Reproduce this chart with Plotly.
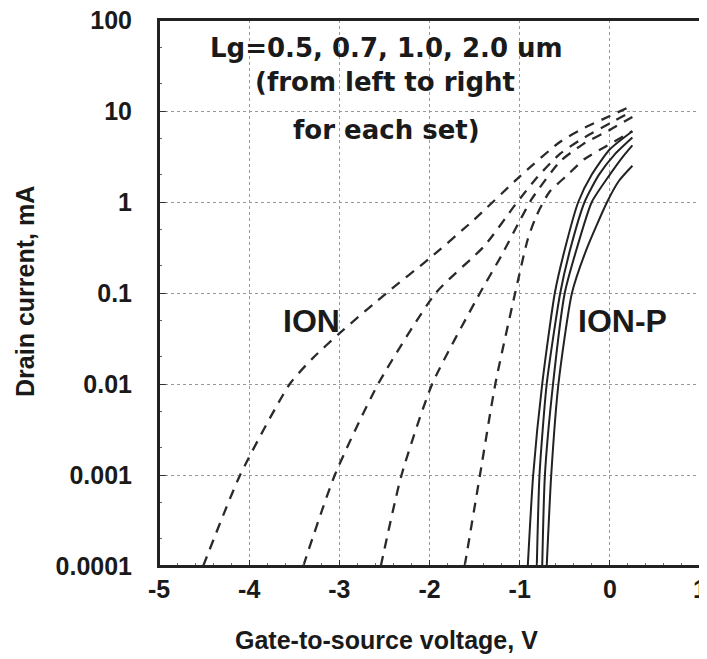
import plotly.graph_objects as go

# ION (dashed) curves, Lg = 0.5, 0.7, 1.0, 2.0 um
ion_v = [
    [-4.51, -4.10, -3.55, -3.30, -3.00, -2.45, -2.00, -1.52, -1.00, -0.55, -0.30, 0.00, 0.25],
    [-3.40, -3.05, -2.57, -1.93, -1.39, -1.05, -0.80, -0.55, -0.30, 0.00, 0.25],
    [-2.54, -2.31, -1.97, -1.44, -1.20, -1.00, -0.86, -0.55, -0.30, 0.00, 0.25],
    [-1.61, -1.44, -1.27, -1.05, -0.91, -0.81, -0.67, -0.47, -0.28, -0.06, 0.25],
]
ion_i = [
    [1e-4, 1e-3, 1e-2, 0.019, 0.036, 0.105, 0.24, 0.62, 1.9, 4.6, 6.4, 8.8, 11.5],
    [1e-4, 1e-3, 1e-2, 0.1, 0.33, 0.93, 1.9, 3.4, 5.0, 7.3, 10.0],
    [1e-4, 1e-3, 1e-2, 0.1, 0.26, 0.62, 1.1, 2.8, 4.3, 6.2, 8.6],
    [1e-4, 1e-3, 1e-2, 0.1, 0.39, 0.72, 1.29, 1.98, 2.97, 4.0, 6.0],
]

# ION-P (solid) curves
ionp_v = [
    [-0.91, -0.85, -0.75, -0.61, -0.50, -0.35, -0.20, 0.00, 0.25],
    [-0.81, -0.78, -0.70, -0.55, -0.44, -0.28, -0.12, 0.05, 0.25],
    [-0.75, -0.72, -0.63, -0.50, -0.37, -0.20, 0.00, 0.15, 0.25],
    [-0.70, -0.65, -0.57, -0.42, -0.26, -0.03, 0.10, 0.25],
]
ionp_i = [
    [1e-4, 1e-3, 1e-2, 0.1, 0.3, 1.0, 2.0, 3.8, 6.0],
    [1e-4, 1e-3, 1e-2, 0.1, 0.3, 1.0, 2.0, 3.3, 5.1],
    [1e-4, 1e-3, 1e-2, 0.1, 0.3, 1.0, 2.0, 3.2, 4.2],
    [1e-4, 1e-3, 1e-2, 0.1, 0.3, 1.0, 1.7, 2.5],
]

x_ticks = [-5, -4, -3, -2, -1, 0, 1]
x_tick_text = ["-5", "-4", "-3", "-2", "-1", "0", "1"]
y_ticks = [1e-4, 1e-3, 1e-2, 0.1, 1, 10, 100]
y_tick_text = ["0.0001", "0.001", "0.01", "0.1", "1", "10", "100"]

FONT = "Liberation Sans"
WIDE = "DejaVu Sans"
INK = "#1a1a1a"

fig = go.Figure()
for v, i in zip(ion_v, ion_i):
    fig.add_trace(go.Scatter(x=v, y=i, mode="lines",
                             line=dict(color="#2a2a2a", width=2.3, dash="10px,8px",
                                       shape="spline", smoothing=0.6),
                             showlegend=False, hoverinfo="skip"))
for v, i in zip(ionp_v, ionp_i):
    fig.add_trace(go.Scatter(x=v, y=i, mode="lines",
                             line=dict(color="#222222", width=2.0,
                                       shape="spline", smoothing=0.6),
                             showlegend=False, hoverinfo="skip"))

def note(x, y, text, size, family=FONT, angle=0):
    fig.add_annotation(xref="paper", yref="paper", x=x, y=y, text=text,
                       showarrow=False, textangle=angle,
                       xanchor="center", yanchor="middle",
                       font=dict(family=family, size=size, color=INK, weight="bold"))

note(0.420, 0.949, "Lg=0.5, 0.7, 1.0, 2.0 um", 26, WIDE)
note(0.418, 0.886, "(from left to right", 26, WIDE)
note(0.421, 0.798, "for each set)", 26, WIDE)
note(0.281, 0.449, "ION", 32)
note(0.856, 0.449, "ION-P", 32)
note(0.420, -0.1355, "Gate-to-source voltage, V", 25)
note(-0.2477, 0.5037, "Drain current, mA", 25, angle=-90)

# plot frame
fig.add_shape(type="rect", xref="paper", yref="paper", x0=0, y0=0, x1=1, y1=1,
              line=dict(color="#222", width=2), layer="above")

# the page body has an 8px margin, so the figure is sized to end at the window edge
fig.update_layout(
    width=699, height=651,
    margin=dict(l=151, r=7, t=12, b=93, autoexpand=False),
    paper_bgcolor="white", plot_bgcolor="white",
    font=dict(family=FONT, color=INK),
    xaxis=dict(range=[-5, 1], tickvals=x_ticks, ticktext=x_tick_text, automargin=False,
               ticks="inside", ticklen=6, ticklabeloverflow="allow",
               tickcolor="#333", showline=True, mirror=True, linecolor="#222", linewidth=2,
               showgrid=True, gridcolor="#999", griddash="dot", gridwidth=1,
               zeroline=False, ticklabelstandoff=0,
               tickfont=dict(family=FONT, size=25, color=INK, weight="bold"),
               minor=dict(dtick=0.2, ticks="inside", ticklen=3, tickcolor="#666", showgrid=False)),
    yaxis=dict(type="log", range=[-4, 2], tickvals=y_ticks, ticktext=y_tick_text, automargin=False,
               ticks="inside", ticklen=7, tickcolor="#333", ticklabeloverflow="allow",
               showline=True, mirror=True, linecolor="#222", linewidth=2,
               showgrid=True, gridcolor="#999", griddash="dot", gridwidth=1,
               zeroline=False, ticklabelstandoff=20,
               tickfont=dict(family=FONT, size=25, color=INK, weight="bold"),
               minor=dict(ticks="inside", ticklen=3, tickcolor="#666", showgrid=False)),
)

fig.write_html("out.html")
